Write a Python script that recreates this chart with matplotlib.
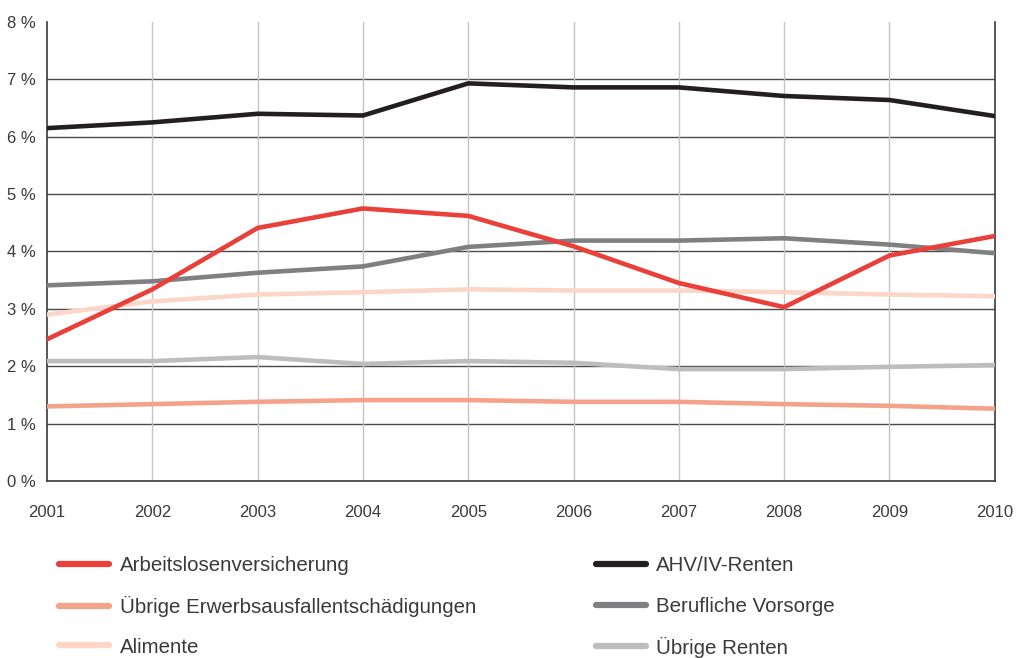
import matplotlib.pyplot as plt
from matplotlib.lines import Line2D

years = [2001, 2002, 2003, 2004, 2005, 2006, 2007, 2008, 2009, 2010]
alv = [2.47, 3.34, 4.41, 4.75, 4.62, 4.09, 3.45, 3.03, 3.93, 4.27]
erwerb = [1.30, 1.34, 1.38, 1.41, 1.41, 1.38, 1.38, 1.34, 1.31, 1.26]
alimente = [2.90, 3.13, 3.25, 3.29, 3.34, 3.32, 3.32, 3.29, 3.25, 3.22]
ahv = [6.15, 6.25, 6.40, 6.37, 6.93, 6.86, 6.86, 6.71, 6.64, 6.36]
bv = [3.41, 3.48, 3.63, 3.74, 4.08, 4.19, 4.19, 4.23, 4.12, 3.97]
renten = [2.09, 2.09, 2.16, 2.04, 2.09, 2.06, 1.95, 1.95, 1.99, 2.02]

labels = ['Arbeitslosenversicherung', 'Übrige Erwerbsausfallentschädigungen', 'Alimente',
          'AHV/IV-Renten', 'Berufliche Vorsorge', 'Übrige Renten']
colors = ['#e9403a', '#f5a28b', '#fcd6c7', '#231f20', '#808083', '#bdbdbf']
series = [alv, erwerb, alimente, ahv, bv, renten]

plt.rcParams['font.family'] = ['Liberation Sans', 'DejaVu Sans']
txt = '#3a3a3a'

fig = plt.figure(figsize=(10.18, 6.58), dpi=100)
ax = fig.add_axes([0.0462, 0.269, 0.931, 0.6976])

# light lines first, red on top
order = [2, 5, 1, 4, 3, 0]
for z, i in enumerate(order):
    ax.plot(years, series[i], color=colors[i], lw=3.3, solid_capstyle='round', zorder=3 + z)

ax.set_xlim(2001, 2010)
ax.set_ylim(0, 8)
ax.set_xticks(years)
ax.set_yticks(range(9))
ax.set_yticklabels(['%d %%' % v for v in range(9)])
ax.tick_params(length=0, labelsize=12, labelcolor=txt)
ax.tick_params(axis='x', pad=17)
ax.tick_params(axis='y', pad=8)

for v in range(1, 8):
    ax.axhline(v, color='#4a4a4a', lw=1, zorder=1)
for y in years[1:-1]:
    ax.axvline(y, color='#c4c4c4', lw=1, zorder=1)

ax.spines['top'].set_visible(False)
for s in ['left', 'bottom', 'right']:
    ax.spines[s].set_color('#3a3a3a')
    ax.spines[s].set_linewidth(1.2)

# legend: one entry per slot so the rows stay evenly spaced
leg_kw = dict(frameon=False, fontsize=14.8, handlelength=2.45, handletextpad=0.5,
              labelcolor=txt, loc='center left', borderaxespad=0, borderpad=0)
row_y = [0.1405, 0.0785, 0.0165]
col_x = [0.058, 0.585]
for k, (lab, c) in enumerate(zip(labels, colors)):
    h = Line2D([], [], color=c, lw=4.5, solid_capstyle='round')
    fig.legend([h], [lab], bbox_to_anchor=(col_x[k // 3], row_y[k % 3]), **leg_kw)

fig.savefig('out.png', dpi=100)
